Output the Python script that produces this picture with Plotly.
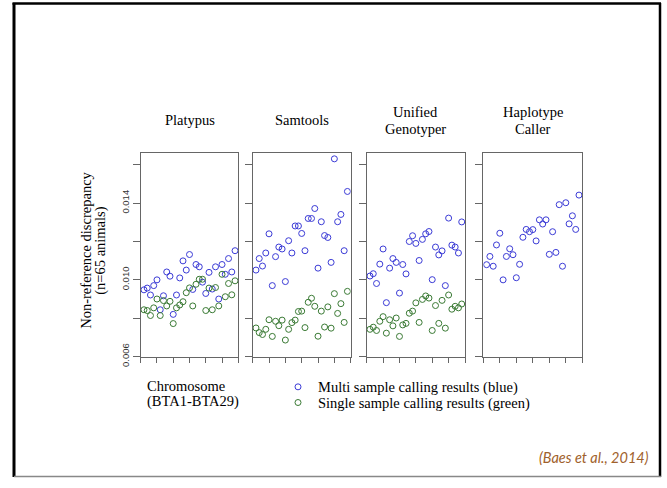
import plotly.graph_objects as go

W, H = 667, 488

chromosomes = list(range(1, 30))

platypus_multi = [0.00948, 0.00957, 0.00921, 0.00970, 0.01000, 0.00844, 0.00917, 0.01041, 0.01019, 0.00820,
                  0.00921, 0.01010, 0.01099, 0.01051, 0.01132, 0.00950, 0.01080, 0.01068, 0.00988, 0.00929,
                  0.01039, 0.00952, 0.01068, 0.00900, 0.01080, 0.01029, 0.01111, 0.01041, 0.01152]
platypus_single = [0.00844, 0.00840, 0.00814, 0.00854, 0.00900, 0.00814, 0.00892, 0.00864, 0.00888, 0.00772,
                   0.00854, 0.00869, 0.00886, 0.00933, 0.00958, 0.00864, 0.00977, 0.01003, 0.01003, 0.00840,
                   0.00957, 0.00844, 0.00960, 0.00864, 0.01029, 0.00912, 0.00981, 0.00922, 0.00995]

samtools_multi = [0.01051, 0.01111, 0.01072, 0.01140, 0.01240, 0.00970, 0.01121, 0.01171, 0.01161, 0.00991,
                  0.01204, 0.01140, 0.01281, 0.01281, 0.01242, 0.01152, 0.01320, 0.01320, 0.01372, 0.01061,
                  0.01303, 0.01231, 0.01221, 0.01091, 0.01631, 0.01303, 0.01341, 0.01152, 0.01461]
samtools_single = [0.00749, 0.00725, 0.00715, 0.00742, 0.00792, 0.00705, 0.00784, 0.00761, 0.00790, 0.00686,
                   0.00742, 0.00777, 0.00790, 0.00835, 0.00837, 0.00751, 0.00883, 0.00904, 0.00862, 0.00706,
                   0.00837, 0.00754, 0.00859, 0.00748, 0.00928, 0.00825, 0.00876, 0.00778, 0.00940]

unified_multi = [0.01020, 0.01032, 0.00981, 0.01082, 0.01161, 0.00881, 0.01061, 0.01111, 0.01091, 0.00931,
                 0.01080, 0.01031, 0.01200, 0.01230, 0.01190, 0.01101, 0.01211, 0.01240, 0.01252, 0.01001,
                 0.01171, 0.01130, 0.01151, 0.00970, 0.01322, 0.01181, 0.01171, 0.01140, 0.01302]
unified_single = [0.00742, 0.00753, 0.00736, 0.00784, 0.00808, 0.00722, 0.00792, 0.00760, 0.00801, 0.00705,
                  0.00765, 0.00773, 0.00826, 0.00837, 0.00880, 0.00778, 0.00898, 0.00916, 0.00905, 0.00736,
                  0.00866, 0.00773, 0.00893, 0.00748, 0.00921, 0.00847, 0.00862, 0.00854, 0.00874]

haplotype_multi = [0.01079, 0.01122, 0.01071, 0.01182, 0.01243, 0.01000, 0.01122, 0.01162, 0.01131, 0.01011,
                   0.01081, 0.01222, 0.01263, 0.01251, 0.01262, 0.01203, 0.01313, 0.01291, 0.01313, 0.01133,
                   0.01251, 0.01143, 0.01392, 0.01071, 0.01402, 0.01292, 0.01334, 0.01263, 0.01442]

panel_titles = [["Platypus"], ["Samtools"], ["Unified", "Genotyper"], ["Haplotype", "Caller"]]
multi_series = [platypus_multi, samtools_multi, unified_multi, haplotype_multi]
single_series = [platypus_single, samtools_single, unified_single, None]

legend_names = ["Multi sample calling results (blue)", "Single sample calling results (green)"]
y_title_lines = ["Non-reference discrepancy", "(n=65 animals)"]
x_title_lines = ["Chromosome", "(BTA1-BTA29)"]
citation = "(Baes et al., 2014)"
y_tickvals = [0.006, 0.008, 0.010, 0.012, 0.014, 0.016]
y_ticktext = ["0.006", "", "0.010", "", "0.014", ""]
x_tickvals = [0, 5, 10, 15, 20, 25, 30]

BLUE = "#3b3bd6"
GREEN = "#3a7a34"
SERIF = "Liberation Serif"
FS = 14.5

# panel pixel boxes (left, right)
panels_px = [(140.7, 238.3), (252.7, 350.7), (366.7, 465.0), (483.3, 582.3)]
top_px, bottom_px = 155.7, 364.7

fig = go.Figure()

for i in range(4):
    ax = "" if i == 0 else str(i + 1)
    fig.add_trace(go.Scatter(
        x=chromosomes, y=multi_series[i], mode="markers",
        xaxis="x" + ax, yaxis="y" + ax,
        name=legend_names[0], legend="legend", legendgroup="multi", showlegend=(i == 0),
        marker=dict(symbol="circle-open", size=6, color=BLUE, line=dict(width=1, color=BLUE)),
    ))
    if single_series[i] is not None:
        fig.add_trace(go.Scatter(
            x=chromosomes, y=single_series[i], mode="markers",
            xaxis="x" + ax, yaxis="y" + ax,
            name=legend_names[1], legend="legend2", legendgroup="single", showlegend=(i == 0),
            marker=dict(symbol="circle-open", size=6, color=GREEN, line=dict(width=1, color=GREEN)),
        ))

leg_common = dict(xanchor="left", yanchor="middle", itemwidth=30, bgcolor="rgba(0,0,0,0)",
                  font=dict(family=SERIF, size=FS, color="black"), borderwidth=0)
layout = dict(
    width=W, height=H, autosize=False,
    margin=dict(l=0, r=0, t=0, b=0),
    paper_bgcolor="white", plot_bgcolor="white",
    showlegend=True,
    legend=dict(x=278 / W, y=1 - 395 / H, **leg_common),
    legend2=dict(x=278 / W, y=1 - 411 / H, **leg_common),
)

for i, (l, r) in enumerate(panels_px):
    ax = "" if i == 0 else str(i + 1)
    layout["xaxis" + ax] = dict(
        domain=[l / W, r / W], range=[0, 30], anchor="y" + ax,
        showline=True, mirror=True, linecolor="#666", linewidth=1,
        ticks="outside", ticklen=5, tickcolor="#666", tickvals=x_tickvals,
        showticklabels=False, showgrid=False, zeroline=False,
    )
    layout["yaxis" + ax] = dict(
        domain=[1 - bottom_px / H, 1 - top_px / H], range=[0.005965, 0.01664], anchor="x" + ax,
        showline=True, mirror=True, linecolor="#666", linewidth=1,
        ticks="outside", ticklen=7, tickcolor="#666",
        tickvals=y_tickvals, ticktext=y_ticktext, showticklabels=(i == 0),
        tickangle=-90, tickfont=dict(family="Liberation Sans", size=9.5, color="#333"),
        showgrid=False, zeroline=False,
    )

fig.update_layout(**layout)

serif_font = dict(family=SERIF, size=FS, color="black")
annotations = []
for i, (l, r) in enumerate(panels_px):
    lines = panel_titles[i]
    ys = [122] if len(lines) == 1 else [114, 132]
    for txt, yy in zip(lines, ys):
        annotations.append(dict(
            text=txt, x=(l + r) / 2 / W, y=1 - yy / H, xref="paper", yref="paper",
            xanchor="center", yanchor="middle", showarrow=False, font=serif_font,
        ))
for txt, xx in zip(y_title_lines, [86, 101]):
    annotations.append(dict(
        text=txt, x=xx / W, y=1 - 256 / H, xref="paper", yref="paper",
        xanchor="center", yanchor="middle", textangle=-90, showarrow=False, font=serif_font,
    ))
for txt, yy in zip(x_title_lines, [394, 410]):
    annotations.append(dict(
        text=txt, x=145 / W, y=1 - yy / H, xref="paper", yref="paper",
        xanchor="left", yanchor="middle", showarrow=False, font=serif_font,
    ))
annotations.append(dict(
    text="<i>" + citation + "</i>", x=651 / W, y=1 - 467 / H, xref="paper", yref="paper",
    xanchor="right", yanchor="middle", showarrow=False,
    font=dict(family="Lato", size=14.5, color="#a0612b"),
))
fig.update_layout(annotations=annotations)

shapes = [
    dict(type="line", xref="paper", yref="paper", x0=14 / W, x1=14 / W, y0=1 - 3 / H, y1=1 - 487 / H,
         line=dict(color="black", width=3)),
    dict(type="line", xref="paper", yref="paper", x0=12.5 / W, x1=661 / W, y0=1 - 3.5 / H, y1=1 - 3.5 / H,
         line=dict(color="black", width=2.5)),
    dict(type="line", xref="paper", yref="paper", x0=660 / W, x1=660 / W, y0=1 - 3 / H, y1=1 - 487 / H,
         line=dict(color="black", width=2.5)),
    dict(type="line", xref="paper", yref="paper", x0=14 / W, x1=661 / W, y0=1 - 486.5 / H, y1=1 - 486.5 / H,
         line=dict(color="#888", width=1.5)),
]
fig.update_layout(shapes=shapes)

fig.write_html("out.html")
